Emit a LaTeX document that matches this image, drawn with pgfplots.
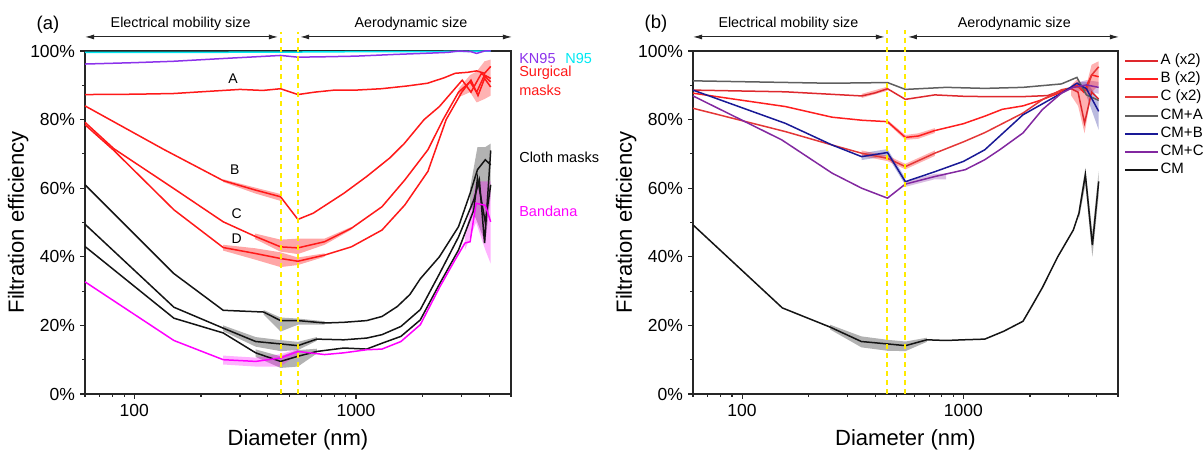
\documentclass[border=0pt]{standalone}
\usepackage{fontspec}
\setmainfont{Liberation Sans}
\usepackage{pgfplots}
\pgfplotsset{compat=1.18}
\usetikzlibrary{arrows.meta}

\definecolor{sred}{RGB}{255,25,25}
\definecolor{ncyan}{RGB}{0,232,242}
\definecolor{kn}{RGB}{140,50,235}
\definecolor{band}{RGB}{255,0,255}
\definecolor{cloth}{RGB}{20,20,20}
\definecolor{yel}{RGB}{255,235,0}
\definecolor{ra}{RGB}{222,40,45}
\definecolor{rb}{RGB}{255,30,30}
\definecolor{rc}{RGB}{228,55,55}
\definecolor{cma}{RGB}{95,95,95}
\definecolor{cmb}{RGB}{25,25,150}
\definecolor{cmc}{RGB}{130,40,160}

\begin{document}
\begin{tikzpicture}
\path[use as bounding box] (0pt,0pt) rectangle (1203pt,450pt);

% ---------------- Panel (a)
\begin{axis}[
    xmode=log, xmin=60, xmax=5000, ymin=0, ymax=100,
    scale only axis, height=343pt, width=426pt, at={(85pt,56pt)}, anchor=south west,
    axis line style={line width=1.1pt, color=black!85},
    tick style={line width=1.1pt, color=black!85},
    tick align=outside, xtick pos=left, ytick pos=left,
    major tick length=5pt, minor tick length=3pt,
    xtick={100,1000}, xticklabels={100,1000},
    minor xtick={60,70,80,90,200,300,400,500,600,700,800,900,2000,3000,4000,5000},
    ytick={0,20,40,60,80,100}, minor ytick={10,30,50,70,90},
    yticklabels={0\%,20\%,40\%,60\%,80\%,100\%},
    ticklabel style={font=\fontsize{17.5}{20}\selectfont},
    yticklabel style={xshift=-1.5pt},
    xticklabel style={yshift=-2pt},
    xlabel={Diameter (nm)}, ylabel={Filtration efficiency},
    xlabel style={font=\fontsize{22}{25}\selectfont, at={(axis description cs:0.5,-0.134)}, anchor=center},
    ylabel style={font=\fontsize{22}{25}\selectfont, at={(axis description cs:-0.157,0.5)}, anchor=center},
    clip=false,
]
% bands
\addplot[draw=none, fill=red, fill opacity=0.35, forget plot] coordinates {(252,62.6) (350,60.2) (457,58.3) (457,56.3) (350,58.5) (252,61.8)};
\addplot[draw=none, fill=red, fill opacity=0.35, forget plot] coordinates {(350,46.8) (457,45) (547,45.3) (722,45.3) (953,48.7) (953,47.9) (722,43.5) (547,40.8) (457,41.5) (350,45.2)};
\addplot[draw=none, fill=red, fill opacity=0.35, forget plot] coordinates {(252,43.5) (350,42.5) (457,41.3) (547,39.8) (722,41) (722,40) (547,37.6) (457,37) (350,39.2) (252,41.8)};
\addplot[draw=none, fill=red, fill opacity=0.3, forget plot] coordinates {(2900,89) (3270,93) (3500,94) (3800,97) (4050,97.5) (4050,87) (3800,86) (3500,85) (3270,88) (2900,86.5)};
\addplot[draw=none, fill=black, fill opacity=0.3, forget plot] coordinates {(383,24.5) (457,22.3) (547,22) (722,21.2) (722,20.2) (547,20.2) (457,18.2) (383,23.2)};
\addplot[draw=none, fill=black, fill opacity=0.3, forget plot] coordinates {(252,20) (353,16.6) (457,15.7) (547,15.2) (666,16.6) (666,15.5) (547,12.8) (457,12.5) (353,13.8) (252,18.3)};
\addplot[draw=none, fill=black, fill opacity=0.3, forget plot] coordinates {(353,13) (457,11) (547,12.8) (666,13.2) (666,11.8) (547,8) (457,7.6) (353,10.8)};
\addplot[draw=none, fill=black, fill opacity=0.3, forget plot] coordinates {(3270,60) (3530,72) (3830,72) (4050,73) (4050,58) (3830,44) (3530,50) (3270,55)};
\addplot[draw=none, fill=band, fill opacity=0.3, forget plot] coordinates {(252,11.2) (353,10.6) (457,11.6) (547,13.1) (547,11.6) (457,8) (353,8) (252,8.6)};
\addplot[draw=none, fill=band, fill opacity=0.3, forget plot] coordinates {(3100,46) (3480,62) (3830,62) (4050,62) (4050,38) (3830,42) (3480,50) (3100,42)};
% N95
\addplot[color=ncyan, line width=1.5pt] coordinates {(60,99.6) (100,99.6) (200,99.6) (457,99.7) (547,99.7) (1000,99.8) (2000,99.8) (3000,99.9) (4050,100)};
% KN95
\addplot[color=kn, line width=1.5pt] coordinates {(60,96.2) (100,96.6) (150,97) (250,97.8) (350,98.3) (457,98.7) (547,98.2) (700,98.3) (1000,98.5) (1500,99) (2000,99.3) (2600,99.6) (2900,100) (3300,99.8) (3500,99.3) (3800,100) (4050,100)};
% Surgical A
\addplot[color=sred, line width=1.5pt] coordinates {(60,87.3) (100,87.4) (150,87.6) (200,88.1) (300,88.8) (380,88.5) (457,89.0) (547,87.3) (650,88.0) (800,88.6) (1000,88.6) (1300,89.0) (1700,89.8) (2100,90.6) (2500,92.2) (2800,93.5) (3200,93.8) (3500,94.2) (3800,93.5) (4050,95.5)};
% Surgical B
\addplot[color=sred, line width=1.5pt] coordinates {(60,84) (136,71.3) (252,62.2) (350,59.5) (457,57.5) (547,50.9) (641,52.7) (881,58.5) (1117,63.4) (1419,68.8) (1650,73) (2028,80) (2377,83.8) (3013,91.5) (3300,88) (3680,93.5) (4050,91)};
% Surgical C
\addplot[color=sred, line width=1.5pt] coordinates {(60,79.2) (81,71.5) (150,60) (252,50.2) (350,46) (457,42.9) (547,42.6) (722,44.4) (953,48.3) (1310,54.6) (1660,62.4) (2110,71.2) (2470,80) (2900,88) (3270,91) (3500,88) (3800,93) (4050,92)};
% Surgical D
\addplot[color=sred, line width=1.5pt] coordinates {(60,78.5) (81,71) (151,53.7) (252,42.7) (350,41) (457,39.5) (547,38.7) (722,40.5) (953,42.9) (1310,47.8) (1660,55.1) (2110,64.9) (2550,80) (3000,88) (3300,91.5) (3550,87) (3800,92) (4050,89.5)};
% Cloth masks
\addplot[color=cloth, line width=1.5pt] coordinates {(60,61) (151,35.1) (252,24.4) (383,23.9) (457,21.4) (547,21.4) (722,20.7) (881,20.9) (1117,21.4) (1310,22.6) (1535,25.5) (1750,29) (1950,33.6) (2377,40) (2900,48.8) (3270,58.5) (3530,65.4) (3830,68.3) (4050,66.8)};
\addplot[color=cloth, line width=1.5pt] coordinates {(60,49.5) (151,25.3) (252,19.2) (353,15.3) (457,14.6) (547,14.1) (666,16) (881,15.8) (1117,16.3) (1310,17.3) (1595,19.7) (1950,24.6) (2377,35) (2900,45.8) (3400,56.6) (3600,62.4) (3800,44) (4050,71)};
\addplot[color=cloth, line width=1.5pt] coordinates {(60,43) (151,22.1) (252,17.8) (353,12) (457,9.5) (547,11) (666,12.4) (881,13.4) (1117,13.1) (1310,14.8) (1595,16.8) (1950,21.6) (2377,32) (2900,42) (3400,53.7) (3530,63) (3830,50) (4050,61)};
% Bandana
\addplot[color=band, line width=1.5pt] coordinates {(60,32.7) (151,15.6) (252,10) (353,9.5) (457,10.5) (547,12.4) (722,11.5) (881,12) (1117,12.9) (1310,13.1) (1595,15.3) (1950,20.2) (2377,31) (2790,39) (3100,44) (3270,44.4) (3480,55.6) (3830,55) (4050,50.2)};
% dashed boundaries
\draw[yel, line width=2pt, dash pattern=on 5pt off 4pt] (axis cs:457,0) -- (axis cs:457,105.5);
\draw[yel, line width=2pt, dash pattern=on 5pt off 4pt] (axis cs:547,0) -- (axis cs:547,105.5);
% arrows and headers
\draw[black!85, line width=1pt, {Latex[length=9pt,width=5pt]}-{Latex[length=9pt,width=5pt]}] (axis cs:60,104.1) -- (axis cs:445,104.1);
\draw[black!85, line width=1pt, {Latex[length=9pt,width=5pt]}-{Latex[length=9pt,width=5pt]}] (axis cs:560,104.1) -- (axis cs:5050,104.1);
\node[font=\fontsize{14.3}{16}\selectfont] at (axis cs:162,107.8) {Electrical mobility size};
\node[font=\fontsize{14.3}{16}\selectfont] at (axis cs:1770,107.8) {Aerodynamic size};
\node[font=\fontsize{18.5}{20}\selectfont] at (axis description cs:-0.087,1.076) {(a)};
% annotations
\node[font=\fontsize{14}{16}\selectfont] at (axis cs:279,91.8) {A};
\node[font=\fontsize{14}{16}\selectfont] at (axis cs:284,65.4) {B};
\node[font=\fontsize{14}{16}\selectfont] at (axis cs:290,52.7) {C};
\node[font=\fontsize{14}{16}\selectfont] at (axis cs:290,45.4) {D};
% right labels
\node[anchor=west, font=\fontsize{14.5}{16}\selectfont, text=kn, inner sep=0pt] at (axis description cs:1.019,0.977) {KN95};
\node[anchor=west, font=\fontsize{14.5}{16}\selectfont, text=ncyan, inner sep=0pt] at (axis description cs:1.127,0.977) {N95};
\node[anchor=west, font=\fontsize{14.5}{16}\selectfont, text=sred, inner sep=0pt] at (axis description cs:1.019,0.936) {Surgical};
\node[anchor=west, font=\fontsize{14.5}{16}\selectfont, text=sred, inner sep=0pt] at (axis description cs:1.019,0.886) {masks};
\node[anchor=west, font=\fontsize{14.5}{16}\selectfont, text=black, inner sep=0pt] at (axis description cs:1.019,0.691) {Cloth masks};
\node[anchor=west, font=\fontsize{14.5}{16}\selectfont, text=band, inner sep=0pt] at (axis description cs:1.019,0.534) {Bandana};
\end{axis}

% ---------------- Panel (b)
\begin{axis}[
    xmode=log, xmin=60, xmax=5000, ymin=0, ymax=100,
    scale only axis, height=343pt, width=425pt, at={(693pt,56pt)}, anchor=south west,
    axis line style={line width=1.1pt, color=black!85},
    tick style={line width=1.1pt, color=black!85},
    tick align=outside, xtick pos=left, ytick pos=left,
    major tick length=5pt, minor tick length=3pt,
    xtick={100,1000}, xticklabels={100,1000},
    minor xtick={60,70,80,90,200,300,400,500,600,700,800,900,2000,3000,4000,5000},
    ytick={0,20,40,60,80,100}, minor ytick={10,30,50,70,90},
    yticklabels={0\%,20\%,40\%,60\%,80\%,100\%},
    ticklabel style={font=\fontsize{17.5}{20}\selectfont},
    yticklabel style={xshift=-1.5pt},
    xticklabel style={yshift=-2pt},
    xlabel={Diameter (nm)}, ylabel={Filtration efficiency},
    xlabel style={font=\fontsize{22}{25}\selectfont, at={(axis description cs:0.5,-0.134)}, anchor=center},
    ylabel style={font=\fontsize{22}{25}\selectfont, at={(axis description cs:-0.157,0.5)}, anchor=center},
    clip=false,
    legend style={draw=none, fill=none, font=\fontsize{15}{17}\selectfont,
      at={(axis description cs:1.014,0.995)}, anchor=north west,
      inner sep=0pt, row sep=2.2pt,
      nodes={inner sep=1.5pt, text height=10pt, text depth=3pt}},
    legend cell align=left,
    legend image code/.code={\draw[#1, line width=2pt] (0pt,0pt) -- (33pt,0pt);},
]
% bands
\addplot[draw=none, fill=black, fill opacity=0.3, forget plot] coordinates {(250,20.2) (346,16.8) (454,15.8) (548,15.3) (684,16.4) (684,15.2) (548,12.5) (454,12.6) (346,13.6) (250,18.8)};
\addplot[draw=none, fill=black, fill opacity=0.3, forget plot] coordinates {(3330,54) (3560,66) (3830,47) (4090,65) (4090,58) (3830,40) (3560,61) (3330,51)};
\addplot[draw=none, fill=cmb, fill opacity=0.3, forget plot] coordinates {(347,70.2) (454,71.4) (547,62.9) (547,60.9) (454,69.4) (347,68.2)};
\addplot[draw=none, fill=cmb, fill opacity=0.3, forget plot] coordinates {(3260,91) (3600,91) (4090,86) (4090,77) (3600,87) (3260,90)};
\addplot[draw=none, fill=red, fill opacity=0.3, forget plot] coordinates {(454,79.9) (547,75.5) (625,76) (743,77.5) (743,76.1) (625,74.4) (547,74.1) (454,78.9)};
\addplot[draw=none, fill=red, fill opacity=0.3, forget plot] coordinates {(347,71) (454,69.5) (547,67.1) (743,71) (743,69.4) (547,65.5) (454,67.9) (347,69.4)};
\addplot[draw=none, fill=red, fill opacity=0.3, forget plot] coordinates {(347,87.5) (454,89.6) (454,88.4) (347,86.3)};
\addplot[draw=none, fill=cmc, fill opacity=0.3, forget plot] coordinates {(547,62) (743,64.2) (836,64.3) (836,62.6) (743,62.6) (547,60.4)};
\addplot[draw=none, fill=cmc, fill opacity=0.3, forget plot] coordinates {(3140,90.5) (3600,91.5) (4090,91) (4090,87.5) (3600,88.5) (3140,88.3)};
\addplot[draw=none, fill=red, fill opacity=0.3, forget plot] coordinates {(3070,90) (3300,92) (3530,88) (3800,96) (4090,97) (4090,90) (3800,88) (3530,76) (3300,84) (3070,87)};
% lines
\addplot[color=ra, line width=1.5pt] coordinates {(60,88.6) (157,88.1) (347,86.9) (400,87.8) (454,89.0) (547,85.9) (743,87.2) (1000,86.8) (1250,86.7) (1860,86.7) (2400,87) (2800,88.5) (3070,89) (3300,88) (3530,79) (3800,88) (4090,86)};
\addlegendentry{A (x2)}
\addplot[color=rb, line width=1.5pt] coordinates {(60,87.7) (157,83.8) (255,80.7) (350,79.8) (454,79.4) (547,74.8) (625,75.2) (743,76.8) (1000,78.8) (1250,81) (1500,83) (1860,84) (2200,85.5) (2775,88) (3260,90) (3500,88) (3800,93) (4090,92.5)};
\addlegendentry{B (x2)}
\addplot[color=rc, line width=1.5pt] coordinates {(60,83.3) (157,76.5) (255,72.6) (347,70.2) (454,68.7) (547,66.3) (743,70.2) (1000,73.5) (1250,76.2) (1860,81.9) (2275,85.8) (2775,88.7) (3260,89.6) (3600,88.5) (3800,93) (4090,95.4)};
\addlegendentry{C (x2)}
\addplot[color=cma, line width=1.5pt] coordinates {(60,91.3) (251,90.6) (454,90.8) (547,88.8) (836,89.4) (1250,89.1) (1860,89.4) (2775,90.4) (3260,92.3) (3600,87.2) (4090,85.6)};
\addlegendentry{CM+A}
\addplot[color=cmb, line width=1.5pt] coordinates {(60,88.6) (157,78.9) (255,72.6) (347,69.2) (454,70.4) (547,61.9) (743,64.8) (1000,67.8) (1250,71.2) (1860,81.4) (2775,87.7) (3260,90.6) (3600,89) (4090,82.4)};
\addlegendentry{CM+B}
\addplot[color=cmc, line width=1.5pt] coordinates {(60,86.9) (151,74.1) (255,64.4) (347,60) (454,57.1) (547,61.2) (743,63.4) (1020,65.4) (1250,68.3) (1460,71.2) (1860,76.1) (2275,82.9) (2775,87.7) (3140,89.4) (3600,90.1) (4090,89.4)};
\addlegendentry{CM+C}
\addplot[color=cloth, line width=1.5pt] coordinates {(60,49.3) (152,25.1) (250,19.5) (346,15.3) (454,14.6) (548,14.1) (684,15.8) (836,15.6) (1000,15.8) (1250,16) (1523,18.3) (1860,21.2) (2055,26) (2275,31) (2670,40) (3140,47.8) (3330,52.7) (3560,63.9) (3830,43.4) (4090,62)};
\addlegendentry{CM}
% dashed boundaries
\draw[yel, line width=2pt, dash pattern=on 5pt off 4pt] (axis cs:454,0) -- (axis cs:454,106);
\draw[yel, line width=2pt, dash pattern=on 5pt off 4pt] (axis cs:547,0) -- (axis cs:547,106);
\draw[black!85, line width=1pt, {Latex[length=9pt,width=5pt]}-{Latex[length=9pt,width=5pt]}] (axis cs:60,104.1) -- (axis cs:442,104.1);
\draw[black!85, line width=1pt, {Latex[length=9pt,width=5pt]}-{Latex[length=9pt,width=5pt]}] (axis cs:562,104.1) -- (axis cs:5050,104.1);
\node[font=\fontsize{14.3}{16}\selectfont] at (axis cs:162,107.8) {Electrical mobility size};
\node[font=\fontsize{14.3}{16}\selectfont] at (axis cs:1700,107.8) {Aerodynamic size};
\node[font=\fontsize{18.5}{20}\selectfont] at (axis description cs:-0.087,1.08) {(b)};
\end{axis}
\end{tikzpicture}
\end{document}
